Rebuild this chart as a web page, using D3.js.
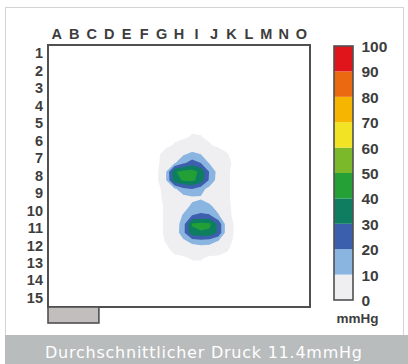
<!DOCTYPE html>
<html><head><meta charset="utf-8">
<script src="https://cdn.jsdelivr.net/npm/d3@7"></script>
<style>html,body{margin:0;padding:0;background:#fff;} svg{display:block}</style>
</head><body>
<svg id="c" width="408" height="364"></svg>
<script>
// ---------- data ----------
const columns = ["A","B","C","D","E","F","G","H","I","J","K","L","M","N","O"];
const rowLabels = ["1","2","3","4","5","6","7","8","9","10","11","12","13","14","15"];
const legendTicks = [0,10,20,30,40,50,60,70,80,90,100];
const legendColors = ["#efeff1","#8bb5e1","#3c5fad","#0f7e60","#24a036","#7bb82a","#f2e424","#f5b500","#eb6a11","#e0141b"];
const bandThresholds = [1,10,20,30,40,50,60,70,80,90];
const unitLabel = "mmHg";
const caption = "Durchschnittlicher Druck 11.4mmHg";
// pressure samples (mmHg) on a half-cell grid; this block starts at half-column 12, half-row 9
const gridCol0 = 12, gridRow0 = 9;
const pressure = [
  [0,0,0,0,0,0,0,0,0,0],
  [0,0,0,0,1.5,1.2,0,0,0,0],
  [0,0,1.5,4,5,4,1.5,0,0,0],
  [0,3,6,9,12,10,6,4,1.2,0],
  [0,4,9,18,25,20,9,5,2,0],
  [0,9,39,43,44,37.5,19,6,1.5,0],
  [0,9,37,41,42,36,18,5,1.5,0],
  [0,2.5,8,17,20,14,6,3,1.5,0],
  [0,2,4,6,8,9,6,3,1.5,0],
  [0,1.5,3,6,12,14,12,6,1.8,0],
  [0,1.5,4,11,20,22,21,11,2,0],
  [0,1.5,3,16,41,43,42,28,4,0],
  [0,1.5,3,17,37,39,38,28,4,0],
  [0,1.2,2,7,13,15,14,9,2.5,0],
  [0,0,2,3,3,3,3,2.5,1.2,0],
  [0,0,0,0,1.2,1.2,0,0,0,0],
  [0,0,0,0,0,0,0,0,0,0]
];

// ---------- layout ----------
const svg = d3.select("#c");
const box = {x0:48, x1:310, y0:45, y1:307};
const labelFont = "'Liberation Sans Narrow','Arial Narrow','Liberation Sans',Arial,sans-serif";
const ink = "#3d3d3d";

// frame
svg.append("rect").attr("x",5.5).attr("y",7.5).attr("width",398).attr("height",340)
  .attr("fill","#fff").attr("stroke","#d3d3d3").attr("stroke-width",1);
svg.append("rect").attr("x",5).attr("y",335).attr("width",403).attr("height",29).attr("fill","#b8bcbd");
svg.append("text").attr("x",203.5).attr("y",358).attr("text-anchor","middle")
  .attr("font-family","'DejaVu Sans',Verdana,sans-serif").attr("font-size",16)
  .attr("fill","#fff").attr("textLength",317).attr("lengthAdjust","spacing").text(caption);

// scales
const xBand = d3.scaleBand().domain(columns).range([box.x0, box.x1]);
const yBand = d3.scaleBand().domain(rowLabels).range([box.y0, box.y1]);
const xHalf = d3.scaleLinear().domain([0, columns.length*2]).range([box.x0, box.x1]);
const yHalf = d3.scaleLinear().domain([0, rowLabels.length*2]).range([box.y0, box.y1]);
const colorOf = d3.scaleThreshold().domain(bandThresholds.slice(1)).range(legendColors);

// heatmap
svg.append("clipPath").attr("id","clip").append("rect")
  .attr("x",box.x0).attr("y",box.y0).attr("width",box.x1-box.x0).attr("height",box.y1-box.y0);
const defs = svg.append("defs");
defs.append("filter").attr("id","soft").append("feGaussianBlur").attr("stdDeviation",0.5);

const nCols = pressure[0].length, nRows = pressure.length;
const flat = pressure.flat();
const contours = d3.contours().size([nCols, nRows]).thresholds(bandThresholds)(flat);
const proj = d3.geoTransform({point(x, y){ this.stream.point(xHalf(x + gridCol0), yHalf(y + gridRow0)); }});
const path = d3.geoPath(proj);
svg.append("g").attr("clip-path","url(#clip)").attr("filter","url(#soft)")
  .selectAll("path").data(contours.filter(c => c.coordinates.length)).join("path")
  .attr("d", path).attr("fill", d => colorOf(d.value)).attr("stroke","none");

// box
svg.append("rect").attr("x",box.x0).attr("y",box.y0).attr("width",box.x1-box.x0).attr("height",box.y1-box.y0)
  .attr("fill","none").attr("stroke","#505050").attr("stroke-width",2);
// small bar below the box
svg.append("rect").attr("x",box.x0).attr("y",box.y1).attr("width",xBand.step()*3-1.5).attr("height",16)
  .attr("fill","#c1bebd").attr("stroke","#505050").attr("stroke-width",1.6);

function styleAxis(g, size){
  g.select(".domain").remove();
  g.attr("font-family", labelFont).attr("font-weight","bold").attr("font-size", size);
  g.selectAll("text").attr("fill", ink);
}
svg.append("g").attr("transform",`translate(0,${box.y0})`)
  .call(d3.axisTop(xBand).tickSize(0).tickPadding(6)).call(g => styleAxis(g, 14.5));
svg.append("g").attr("transform",`translate(${box.x0},0)`)
  .call(d3.axisLeft(yBand).tickSize(0).tickPadding(5)).call(g => styleAxis(g, 14.5));

// colour legend
const lg = {x0:334, x1:353, y0:46, y1:300};
const cScale = d3.scaleLinear().domain([0,100]).range([lg.y1, lg.y0]);
svg.append("g").selectAll("rect").data(legendColors).join("rect")
  .attr("x", lg.x0).attr("width", lg.x1-lg.x0)
  .attr("y", (d,i) => cScale(legendTicks[i+1])).attr("height", (d,i) => cScale(legendTicks[i]) - cScale(legendTicks[i+1]))
  .attr("fill", d => d);
svg.append("rect").attr("x",lg.x0).attr("y",lg.y0).attr("width",lg.x1-lg.x0).attr("height",lg.y1-lg.y0)
  .attr("fill","none").attr("stroke","#505050").attr("stroke-width",1.6);
svg.append("g").attr("transform",`translate(${lg.x1},0.5)`)
  .call(d3.axisRight(cScale).tickValues(legendTicks).tickSize(0).tickPadding(8.5).tickFormat(d3.format("d")))
  .call(g => styleAxis(g, 15.5));
svg.append("text").attr("x",357.5).attr("y",323).attr("text-anchor","middle")
  .attr("font-family",labelFont).attr("font-weight","bold").attr("font-size",13.5).attr("fill",ink).text(unitLabel);
</script>
</body></html>
